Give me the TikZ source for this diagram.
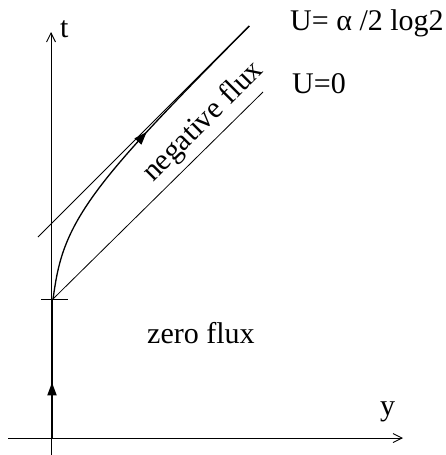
\documentclass[tikz,border=0pt]{standalone}
\usepackage{fontspec}
\setmainfont{Liberation Serif}
\usetikzlibrary{arrows.meta,decorations.markings}
\begin{document}
\begin{tikzpicture}[x=1pt,y=-1pt,
  axis/.style={line width=0.9pt,-{Straight Barb[length=9pt,width=9pt,line width=0.9pt]}},
  thin line/.style={line width=0.8pt},
  lbl/.style={inner sep=0pt,anchor=base west,font=\fontsize{30}{36}\selectfont},
  midarrow/.style={postaction={decorate,decoration={markings,mark=at position #1 with {\arrow{Triangle[length=13pt,width=9pt]}}}}}]
\useasboundingbox (0,0) rectangle (446,455);
% key points
\coordinate (O) at (53,299);
\coordinate (Ybot) at (52,438);
\coordinate (Otop) at (52,299);
\coordinate (Xl) at (8,438);
\coordinate (Xr) at (403,438);
\coordinate (Tb) at (51,455);
\coordinate (Tt) at (51,32);
\coordinate (TickL) at (41,299);
\coordinate (TickR) at (68,299);
\coordinate (Zend) at (263,92);
\coordinate (Astart) at (38,237);
\coordinate (Aend) at (249,26);
% axes
\draw[axis] (Xl) -- (Xr);
\draw[axis] (Tb) -- (Tt);
\draw[line width=0.9pt] (TickL) -- (TickR);
% thick trajectory along t axis
\draw[line width=2pt,midarrow=0.4] (Ybot) -- (Otop);
% U=0 line and asymptote
\draw[thin line] (O) -- (Zend);
\draw[thin line] (Astart) -- (Aend);
% curve approaching the asymptote
\draw[line width=1.3pt,midarrow=0.57] plot[domain=0:273,samples=120,variable=\u]
  ({53+\u-77*tanh(\u/90)},{299-\u});
% labels
\node[lbl] (t) at (60,37) {t};
\node[lbl] (y) at (380,415) {y};
\node[lbl] (ua) at (290,30) {U= α /2 log2};
\node[lbl] (u0) at (292,93) {U=0};
\node[lbl] (zf) at (147,343) {zero flux};
\node[lbl,rotate=45] (nf) at (153,183) {negative flux};
\end{tikzpicture}
\end{document}
